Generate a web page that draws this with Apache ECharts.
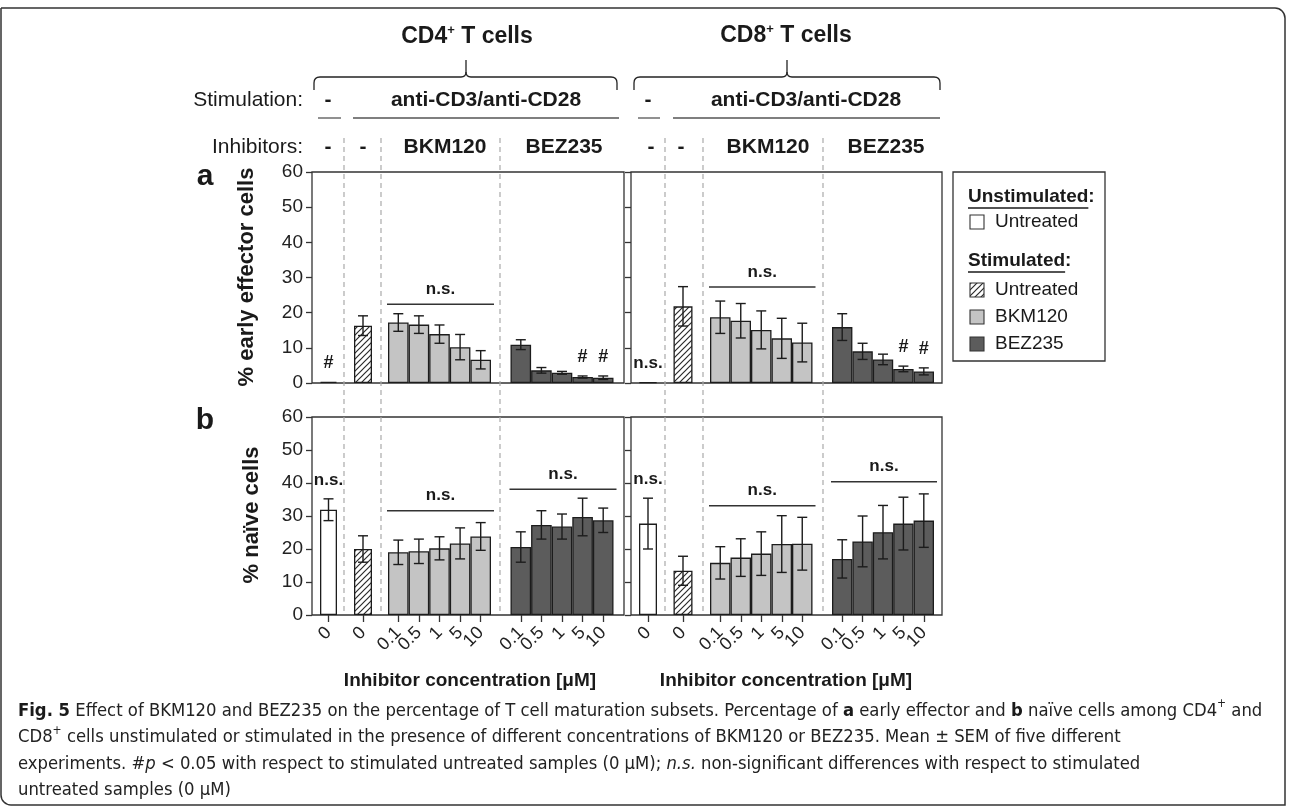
<!DOCTYPE html>
<html>
<head>
<meta charset="utf-8">
<script src="https://cdn.jsdelivr.net/npm/echarts@6/dist/echarts.min.js"></script>
<style>
html, body { margin: 0; padding: 0; background: #fff; }
#chart { width: 1292px; height: 812px; }
</style>
</head>
<body>
<div id="chart"></div>
<script>
// categories (x labels under each bar)
var concLabels = ['0', '0', '0.1', '0.5', '1', '5', '10', '0.1', '0.5', '1', '5', '10'];

// a: % early effector cells (mean, SEM)
var cd4EarlyMean = [0.3, 16.3, 17.2, 16.6, 13.9, 10.2, 6.6, 10.9, 3.6, 2.9, 1.7, 1.5];
var cd4EarlySem = [0, 2.8, 2.5, 2.5, 2.6, 3.6, 2.6, 1.4, 0.8, 0.4, 0.3, 0.5];
var cd8EarlyMean = [0.2, 21.8, 18.7, 17.7, 15.1, 12.7, 11.5, 15.9, 9.0, 6.7, 4.0, 3.3];
var cd8EarlySem = [0, 5.6, 4.6, 4.9, 5.4, 5.7, 5.5, 3.8, 2.3, 1.5, 0.8, 1.0];

// b: % naive cells (mean, SEM)
var cd4NaiveMean = [31.9, 20.0, 19.0, 19.3, 20.2, 21.7, 23.8, 20.6, 27.3, 26.8, 29.7, 28.7];
var cd4NaiveSem = [3.3, 4.0, 3.7, 3.7, 3.5, 4.7, 4.2, 4.6, 4.3, 3.8, 5.7, 3.7];
var cd8NaiveMean = [27.7, 13.4, 15.8, 17.4, 18.6, 21.5, 21.6, 17.0, 22.3, 25.1, 27.7, 28.6];
var cd8NaiveSem = [7.7, 4.4, 4.9, 5.7, 6.6, 8.6, 8.0, 5.8, 7.7, 8.1, 8.0, 8.1];

// significance marks above single bars
var cd4EarlyMarks = ['#', '', '', '', '', '', '', '', '', '', '#', '#'];
var cd8EarlyMarks = ['n.s.', '', '', '', '', '', '', '', '', '', '#', '#'];
var cd4NaiveMarks = ['n.s.', '', '', '', '', '', '', '', '', '', '', ''];
var cd8NaiveMarks = ['n.s.', '', '', '', '', '', '', '', '', '', '', ''];

// n.s. bracket level over [BKM120, BEZ235] groups
var cd4EarlyBrackets = [22.4, null];
var cd8EarlyBrackets = [27.3, null];
var cd4NaiveBrackets = [31.6, 38.1];
var cd8NaiveBrackets = [33.1, 40.4];

var yTicks = [0, 10, 20, 30, 40, 50, 60];

var FONT = '"Liberation Sans", Arial, sans-serif';
var chart = echarts.init(document.getElementById('chart'));

// layout
var groupRanges = [[0, 1], [1, 2], [2, 7], [7, 12]];
var frameLeft = [312, 631], frameWidth = [312, 311];
var rowTop = [172, 417], rowHeight = [211, 198];
var groupLeft = [[318, 352.5, 388, 510.5], [637.5, 672.5, 710, 832]];
var groupWidth = [[21, 21, 103, 103], [21, 21, 102.5, 102]];
var singleBarWidth = [[17, 18], [18, 19]];
var sepX = [344, 381, 500, 665, 703, 823];

var measureCtx = document.createElement('canvas').getContext('2d');
function textWidth(s, size, bold) {
	measureCtx.font = (bold ? 'bold ' : '') + size + 'px ' + FONT;
	return measureCtx.measureText(s).width;
}

function makeHatch() {
	var c = document.createElement('canvas');
	c.width = 6; c.height = 6;
	var ctx = c.getContext('2d');
	ctx.fillStyle = '#fff';
	ctx.fillRect(0, 0, 6, 6);
	ctx.strokeStyle = '#2a2a2a';
	ctx.lineWidth = 1.2;
	ctx.beginPath();
	ctx.moveTo(0, 6); ctx.lineTo(6, 0);
	ctx.moveTo(-1, 1); ctx.lineTo(1, -1);
	ctx.moveTo(5, 7); ctx.lineTo(7, 5);
	ctx.stroke();
	return c;
}
var hatch = makeHatch();
var groupColors = ['#ffffff', { image: hatch, repeat: 'repeat' }, '#c4c4c4', '#5c5c5c'];

var panels = [
	{ row: 0, side: 0, mean: cd4EarlyMean, sem: cd4EarlySem, marks: cd4EarlyMarks, brackets: cd4EarlyBrackets },
	{ row: 0, side: 1, mean: cd8EarlyMean, sem: cd8EarlySem, marks: cd8EarlyMarks, brackets: cd8EarlyBrackets },
	{ row: 1, side: 0, mean: cd4NaiveMean, sem: cd4NaiveSem, marks: cd4NaiveMarks, brackets: cd4NaiveBrackets },
	{ row: 1, side: 1, mean: cd8NaiveMean, sem: cd8NaiveSem, marks: cd8NaiveMarks, brackets: cd8NaiveBrackets }
];

var grids = [], xAxes = [], yAxes = [], series = [];

panels.forEach(function(p) {
	var top = rowTop[p.row], h = rowHeight[p.row];
	var gi = grids.length;
	grids.push({
		left: frameLeft[p.side], top: top, width: frameWidth[p.side], height: h,
		show: true, borderColor: '#333', borderWidth: 1.3
	});
	xAxes.push({ gridIndex: gi, type: 'value', show: false, min: 0, max: 1 });
	yAxes.push({
		gridIndex: gi, type: 'value', min: yTicks[0], max: yTicks[yTicks.length - 1], interval: 10,
		axisLine: { show: false },
		axisTick: { show: true, length: 6, lineStyle: { color: '#333', width: 1.3 } },
		axisLabel: { show: p.side === 0, fontSize: 19, color: '#222', margin: 9, fontFamily: FONT },
		splitLine: { show: false }
	});

	groupRanges.forEach(function(r, g) {
		var gj = grids.length;
		grids.push({ left: groupLeft[p.side][g], top: top, width: groupWidth[p.side][g], height: h });
		xAxes.push({
			gridIndex: gj, type: 'category', data: concLabels.slice(r[0], r[1]),
			axisLine: { show: false },
			axisTick: { show: p.row === 1, alignWithLabel: true, length: 7, lineStyle: { color: '#333', width: 1.3 } },
			axisLabel: { show: p.row === 1, rotate: 45, interval: 0, fontSize: 18, color: '#222', margin: 15, fontFamily: FONT }
		});
		yAxes.push({ gridIndex: gj, type: 'value', min: 0, max: 60, show: false });

		var vals = p.mean.slice(r[0], r[1]);
		var errs = p.sem.slice(r[0], r[1]);
		var marks = p.marks.slice(r[0], r[1]);
		var bar = {
			type: 'bar', xAxisIndex: gj, yAxisIndex: gj, data: vals, silent: true, z: 2,
			itemStyle: { color: groupColors[g], borderColor: '#1c1c1c', borderWidth: 1.3 },
			animation: false
		};
		if (g < 2) bar.barWidth = singleBarWidth[p.side][g];
		else bar.barCategoryGap = '0%';
		series.push(bar);

		series.push({
			type: 'custom', xAxisIndex: gj, yAxisIndex: gj, silent: true, animation: false, z: 5,
			data: vals.map(function(v, i) { return [i, v, errs[i]]; }),
			renderItem: function(params, api) {
				var x = api.value(0), m = api.value(1), s = api.value(2);
				var topP = api.coord([x, m + s]);
				var botP = api.coord([x, m - s]);
				var st = { stroke: '#1c1c1c', lineWidth: 1.4 };
				var kids = [];
				if (s > 0) {
					kids.push({ type: 'line', shape: { x1: topP[0], y1: topP[1], x2: botP[0], y2: botP[1] }, style: st });
					kids.push({ type: 'line', shape: { x1: topP[0] - 5, y1: topP[1], x2: topP[0] + 5, y2: topP[1] }, style: st });
					kids.push({ type: 'line', shape: { x1: botP[0] - 5, y1: botP[1], x2: botP[0] + 5, y2: botP[1] }, style: st });
				}
				var mk = marks[params.dataIndex];
				if (mk) {
					kids.push({
						type: 'text', x: topP[0], y: topP[1] - 19,
						style: { text: mk, fontFamily: FONT, fontWeight: 'bold', fontSize: mk === '#' ? 18 : 17, fill: '#1a1a1a', align: 'center', verticalAlign: 'middle' }
					});
				}
				return { type: 'group', children: kids };
			}
		});

		if (g >= 2 && p.brackets[g - 2] != null) {
			var n = vals.length;
			series.push({
				type: 'custom', xAxisIndex: gj, yAxisIndex: gj, silent: true, animation: false, z: 5,
				data: [[p.brackets[g - 2]]],
				renderItem: function(params, api) {
					var lv = api.value(0);
					var bw = api.size([1, 0])[0];
					var a = api.coord([0, lv]);
					var b = api.coord([n - 1, lv]);
					var x1 = a[0] - bw / 2 - 1, x2 = b[0] + bw / 2 + 3;
					return {
						type: 'group', children: [
							{ type: 'line', shape: { x1: x1, y1: a[1], x2: x2, y2: a[1] }, style: { stroke: '#333', lineWidth: 1.4 } },
							{ type: 'text', x: (x1 + x2) / 2, y: a[1] - 15, style: { text: 'n.s.', fontFamily: FONT, fontWeight: 'bold', fontSize: 17, fill: '#1a1a1a', align: 'center', verticalAlign: 'middle' } }
						]
					};
				}
			});
		}
	});
});

// header, legend, captions
var g = [];
function txt(x, y, text, size, bold, align) {
	return { type: 'text', x: x, y: y, silent: true, style: { text: text, fontFamily: FONT, fontSize: size, fontWeight: bold ? 'bold' : 'normal', fill: '#1a1a1a', align: align || 'center', verticalAlign: 'middle' } };
}
function ln(x1, y1, x2, y2, w, dash, color) {
	return { type: 'line', silent: true, shape: { x1: x1, y1: y1, x2: x2, y2: y2 }, style: { stroke: color || '#222', lineWidth: w || 1.3, lineDash: dash || null } };
}
function curve(x1, y1, cx, cy, x2, y2) {
	return { type: 'bezierCurve', silent: true, shape: { x1: x1, y1: y1, x2: x2, y2: y2, cpx1: cx, cpy1: cy }, style: { stroke: '#222', lineWidth: 1.3, fill: null } };
}
function brace(x0, x1, xm) {
	return [
		ln(x0, 90, x0, 83),
		curve(x0, 83, x0, 77, x0 + 6, 77),
		ln(x0 + 6, 77, xm - 5, 77),
		curve(xm - 5, 77, xm, 77, xm, 72),
		ln(xm, 72, xm, 60),
		curve(xm, 72, xm, 77, xm + 5, 77),
		ln(xm + 5, 77, x1 - 6, 77),
		curve(x1 - 6, 77, x1, 77, x1, 83),
		ln(x1, 83, x1, 90)
	];
}

// outer frame
g.push({ type: 'rect', silent: true, shape: { x: 1, y: 8, width: 1284, height: 797, r: [0, 10, 0, 10] }, style: { fill: null, stroke: '#333', lineWidth: 1.5 } });

// cell type titles
var richTitle = { n: { fontFamily: FONT, fontSize: 23, fontWeight: 'bold', fill: '#1a1a1a' }, s: { fontFamily: FONT, fontSize: 13, fontWeight: 'bold', fill: '#1a1a1a', verticalAlign: 'top', lineHeight: 26 } };
g.push({ type: 'text', silent: true, x: 467, y: 37, style: { text: '{n|CD4}{s|+}{n| T cells}', rich: richTitle, align: 'center', verticalAlign: 'middle' } });
g.push({ type: 'text', silent: true, x: 786, y: 36, style: { text: '{n|CD8}{s|+}{n| T cells}', rich: richTitle, align: 'center', verticalAlign: 'middle' } });
g = g.concat(brace(314, 617, 466));
g = g.concat(brace(634, 940, 787));

g.push(txt(303, 100, 'Stimulation:', 21, false, 'right'));
g.push(txt(328, 100, '-', 21, true));
g.push(txt(486, 100, 'anti-CD3/anti-CD28', 21, true));
g.push(txt(648, 100, '-', 21, true));
g.push(txt(806, 100, 'anti-CD3/anti-CD28', 21, true));
g.push(ln(318, 118, 341, 118, 1.3, null, '#555'));
g.push(ln(353, 118, 619, 118, 1.3, null, '#555'));
g.push(ln(638, 118, 660, 118, 1.3, null, '#555'));
g.push(ln(673, 118, 940, 118, 1.3, null, '#555'));

g.push(txt(303, 147, 'Inhibitors:', 21, false, 'right'));
g.push(txt(328, 147, '-', 21, true));
g.push(txt(363, 147, '-', 21, true));
g.push(txt(445, 147, 'BKM120', 21, true));
g.push(txt(564, 147, 'BEZ235', 21, true));
g.push(txt(651, 147, '-', 21, true));
g.push(txt(681, 147, '-', 21, true));
g.push(txt(768, 147, 'BKM120', 21, true));
g.push(txt(886, 147, 'BEZ235', 21, true));

sepX.forEach(function(x) { g.push(ln(x, 138, x, 615, 1.2, [5, 4], '#aaaaaa')); });

g.push(txt(205, 177, 'a', 30, true));
g.push(txt(205, 421, 'b', 30, true));
var t1 = txt(247, 277, '% early effector cells', 22, true);
t1.rotation = Math.PI / 2;
g.push(t1);
var t2 = txt(252, 515, '% naïve cells', 22, true);
t2.rotation = Math.PI / 2;
g.push(t2);

g.push(txt(470, 681, 'Inhibitor concentration [μM]', 19, true));
g.push(txt(786, 681, 'Inhibitor concentration [μM]', 19, true));

// legend
g.push({ type: 'rect', silent: true, shape: { x: 953, y: 172, width: 152, height: 189 }, style: { fill: '#fff', stroke: '#333', lineWidth: 1.3 } });
function heading(y, s) {
	var w = textWidth(s, 19, true);
	g.push(txt(968, y, s, 19, true, 'left'));
	g.push(ln(968, y + 11, 968 + w, y + 11, 1.5, null, '#1a1a1a'));
	g.push(txt(968 + w, y, ':', 19, true, 'left'));
}
heading(197, 'Unstimulated');
heading(261, 'Stimulated');
var legItems = [
	{ y: 222, fill: '#ffffff', label: 'Untreated' },
	{ y: 290, fill: { image: hatch, repeat: 'repeat' }, label: 'Untreated' },
	{ y: 317, fill: '#c4c4c4', label: 'BKM120' },
	{ y: 344, fill: '#5c5c5c', label: 'BEZ235' }
];
legItems.forEach(function(it) {
	g.push({ type: 'rect', silent: true, shape: { x: 970, y: it.y - 7, width: 14, height: 14 }, style: { fill: it.fill, stroke: '#333', lineWidth: 1.1 } });
	g.push(txt(995, it.y, it.label, 19, false, 'left'));
});

// caption
var CAP = '"Liberation Sans Narrow", "DejaVu Sans Condensed", "Noto Sans", sans-serif';
var capRich = {
	r: { fontFamily: CAP, fontSize: 18.3, fill: '#222', lineHeight: 26 },
	b: { fontFamily: CAP, fontSize: 18.3, fontWeight: 'bold', fill: '#1a1a1a', lineHeight: 26 },
	i: { fontFamily: CAP, fontSize: 18.3, fontStyle: 'italic', fill: '#222', lineHeight: 26 },
	s: { fontFamily: CAP, fontSize: 12, fill: '#222', verticalAlign: 'top', lineHeight: 26 }
};
var capLines = [
	'{b|Fig. 5}{r| Effect of BKM120 and BEZ235 on the percentage of T cell maturation subsets. Percentage of }{b|a}{r| early effector and }{b|b}{r| naïve cells among CD4}{s|+}{r| and}',
	'{r|CD8}{s|+}{r| cells unstimulated or stimulated in the presence of different concentrations of BKM120 or BEZ235. Mean ± SEM of five different}',
	'{r|experiments. #}{i|p}{r| < 0.05 with respect to stimulated untreated samples (0 µM); }{i|n.s.}{r| non-significant differences with respect to stimulated}',
	'{r|untreated samples (0 µM)}'
];
capLines.forEach(function(s, i) {
	g.push({ type: 'text', silent: true, x: 18, y: 711 + i * 26.5, style: { text: s, rich: capRich, align: 'left', verticalAlign: 'middle' } });
});

var option = {
	backgroundColor: '#ffffff',
	animation: false,
	grid: grids,
	xAxis: xAxes,
	yAxis: yAxes,
	series: series,
	graphic: g
};
chart.setOption(option);
</script>
</body>
</html>
